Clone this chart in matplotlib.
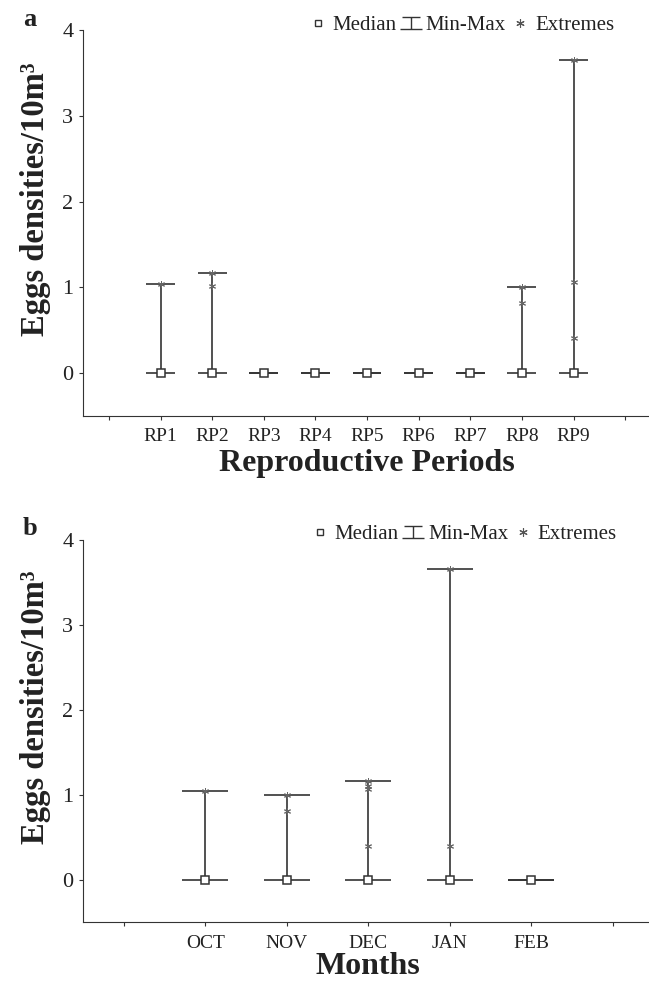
import matplotlib
matplotlib.use('Agg')
import matplotlib.pyplot as plt
from matplotlib.lines import Line2D
from matplotlib.path import Path

plt.rcParams['font.family'] = ['Liberation Serif', 'DejaVu Serif']

# Panel a: reproductive periods
rp_labels = ['RP1', 'RP2', 'RP3', 'RP4', 'RP5', 'RP6', 'RP7', 'RP8', 'RP9']
rp_median = [0, 0, 0, 0, 0, 0, 0, 0, 0]
rp_min = [0, 0, 0, 0, 0, 0, 0, 0, 0]
rp_max = [1.04, 1.17, 0, 0, 0, 0, 0, 1.01, 3.65]
rp_extremes = [[1.04], [1.17, 1.02], [], [], [], [], [], [1.01, 0.82], [3.65, 1.06, 0.41]]

# Panel b: months
mo_labels = ['OCT', 'NOV', 'DEC', 'JAN', 'FEB']
mo_median = [0, 0, 0, 0, 0]
mo_min = [0, 0, 0, 0, 0]
mo_max = [1.04, 1.0, 1.16, 3.66, 0]
mo_extremes = [[1.04], [1.0, 0.81], [1.16, 1.1, 1.06, 0.4], [3.66, 0.4], []]

dark = '#333333'
txt = '#222222'
cap = 0.28

# I-beam marker for the legend (Min-Max)
ibeam = Path([(-0.8, 0.5), (0.8, 0.5), (0, 0.5), (0, -0.5), (-1, -0.5), (1, -0.5)],
             [Path.MOVETO, Path.LINETO, Path.MOVETO, Path.LINETO, Path.MOVETO, Path.LINETO])


def draw_panel(ax, labels, med, mn, mx, ext, xlabel, xpad):
    x = list(range(1, len(labels) + 1))
    for i in range(len(labels)):
        ax.vlines(x[i], mn[i], mx[i], color=dark, lw=1.2, zorder=2)
        ax.hlines([mn[i], mx[i]], x[i] - cap, x[i] + cap, color=dark, lw=1.2, zorder=2)
        if ext[i]:
            ax.plot([x[i]] * len(ext[i]), ext[i], ls='', marker=(6, 2, 0), ms=5,
                    mew=0.7, color='#666666', zorder=3)
    ax.plot(x, med, ls='', marker='s', ms=5.5, mfc='white', mec=dark, mew=1.1, zorder=4)

    ax.set_xlim(-0.5, len(labels) + 1.5)
    ax.set_ylim(-0.5, 4)
    ax.set_xticks(range(0, len(labels) + 2))
    ax.set_xticklabels([''] + labels + [''], fontsize=14)
    ax.set_yticks([0, 1, 2, 3, 4])
    ax.tick_params(axis='y', labelsize=16, length=3, width=0.8, colors=dark, pad=4)
    ax.tick_params(axis='x', length=3, width=0.8, colors=dark, pad=6)
    for lab in ax.get_xticklabels() + ax.get_yticklabels():
        lab.set_color(txt)
    ax.spines['top'].set_visible(False)
    ax.spines['right'].set_visible(False)
    ax.spines['left'].set_color(dark)
    ax.spines['bottom'].set_color(dark)

    ax.set_xlabel(xlabel, fontsize=23, fontweight='bold', color=txt, labelpad=xpad)
    ax.set_ylabel('Eggs densities/10m³', fontsize=23.5, fontweight='bold', color=txt)
    ax.yaxis.set_label_coords(-0.056, 0.562)

    handles = [
        Line2D([], [], ls='', marker='s', ms=5, mfc='white', mec=dark, mew=1),
        Line2D([], [], ls='', marker=ibeam, ms=16, mec=dark, mew=1),
        Line2D([], [], ls='', marker=(6, 2, 0), ms=6, mew=0.8, color='#555555'),
    ]
    ax.legend(handles, ['Median', 'Min-Max', 'Extremes'], ncol=3, frameon=False,
              loc='center right', bbox_to_anchor=(0.935, 1.013), fontsize=15,
              handlelength=0.8, handletextpad=0.3, columnspacing=0.3, borderpad=0,
              borderaxespad=0, labelcolor=txt)


fig = plt.figure(figsize=(6.49, 9.83), dpi=100)
ax1 = fig.add_axes([0.128, 0.577, 0.875, 0.392])
ax2 = fig.add_axes([0.128, 0.062, 0.879, 0.389])

draw_panel(ax1, rp_labels, rp_median, rp_min, rp_max, rp_extremes, 'Reproductive Periods', 3)
draw_panel(ax2, mo_labels, mo_median, mo_min, mo_max, mo_extremes, 'Months', 0)

fig.text(0.046, 0.980, 'a', fontsize=19, fontweight='bold', color=txt, ha='center', va='center')
fig.text(0.046, 0.462, 'b', fontsize=19, fontweight='bold', color=txt, ha='center', va='center')

fig.savefig('out.png', dpi=100)
